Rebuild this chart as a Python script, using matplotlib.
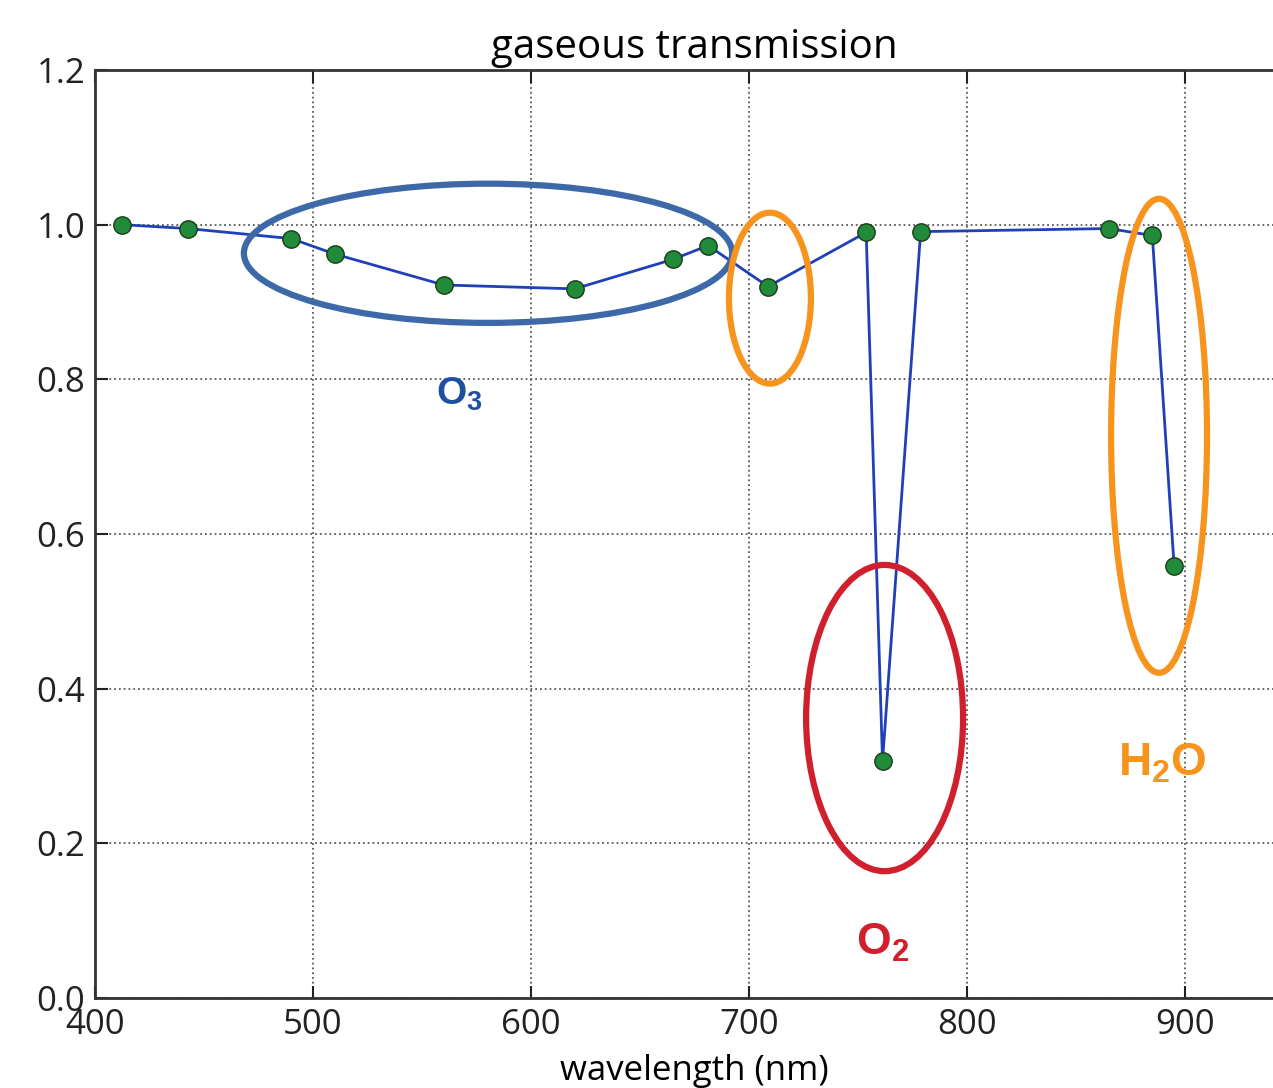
import matplotlib
matplotlib.use("Agg")
import matplotlib.pyplot as plt
from matplotlib.patches import Ellipse

# MERIS band centres (nm) and gaseous transmission
wavelength = [412.5, 442.5, 490, 510, 560, 620, 665, 681.25, 708.75,
              753.75, 761.25, 778.75, 865, 885, 895]
transmission = [1.000, 0.995, 0.982, 0.962, 0.922, 0.917, 0.955, 0.973, 0.920,
                0.990, 0.306, 0.991, 0.995, 0.986, 0.559]

# annotations: (label, x, y, size, colour)
labels = [
    (r"$\mathbf{O_3}$", 567, 0.767, 28, "#1f4fa0"),
    (r"$\mathbf{O_2}$", 761.5, 0.0556, 32, "#d0202e"),
    (r"$\mathbf{H_2O}$", 889.5, 0.288, 33, "#f7941d"),
]
# ellipses: (centre x, centre y, width nm, height, colour)
ellipses = [
    (580.3, 0.963, 224, 0.180, "#3d69a8"),
    (709.6, 0.905, 37.6, 0.221, "#f7941d"),
    (762.2, 0.362, 72, 0.396, "#d0202e"),
    (888.1, 0.727, 44, 0.613, "#f7941d"),
]

plt.rcParams["font.family"] = ["Open Sans", "DejaVu Sans"]
plt.rcParams["mathtext.fontset"] = "custom"
plt.rcParams["mathtext.bf"] = "Liberation Sans:bold"
plt.rcParams["mathtext.rm"] = "Liberation Sans"

fig = plt.figure(figsize=(12.73, 10.88), dpi=100)
ax = fig.add_axes([95 / 1273, 1 - 998 / 1088, (1294 - 95) / 1273, (998 - 70) / 1088])

ax.plot(wavelength, transmission, color="#2040b8", linewidth=2,
        marker="o", markersize=12.5, markerfacecolor="#228b3a",
        markeredgecolor="#1a3a1a", markeredgewidth=1, zorder=3)

for cx, cy, w, h, c in ellipses:
    ax.add_patch(Ellipse((cx, cy), w, h, fill=False, edgecolor=c,
                         linewidth=4.5, zorder=4))

for txt, x, y, s, c in labels:
    ax.text(x, y, txt, fontsize=s, color=c, ha="center", va="baseline")

ax.set_xlim(400, 950)
ax.set_ylim(0, 1.2)
ax.set_xticks([400, 500, 600, 700, 800, 900])
ax.set_yticks([0.0, 0.2, 0.4, 0.6, 0.8, 1.0, 1.2])
ax.set_yticklabels(["0.0", "0.2", "0.4", "0.6", "0.8", "1.0", "1.2"])
ax.grid(True, color="0.35", linestyle=":", linewidth=1.3)
ax.tick_params(direction="in", top=True, right=False, length=9, width=1.5,
               labelsize=25, pad=7, colors="#222222")
for sp in ax.spines.values():
    sp.set_linewidth(2)
    sp.set_color("#333333")
ax.spines["right"].set_visible(False)

ax.set_title("gaseous transmission", fontsize=29, pad=9)
ax.set_xlabel("wavelength (nm)", fontsize=25, labelpad=9)

fig.savefig("out.png", dpi=100)
